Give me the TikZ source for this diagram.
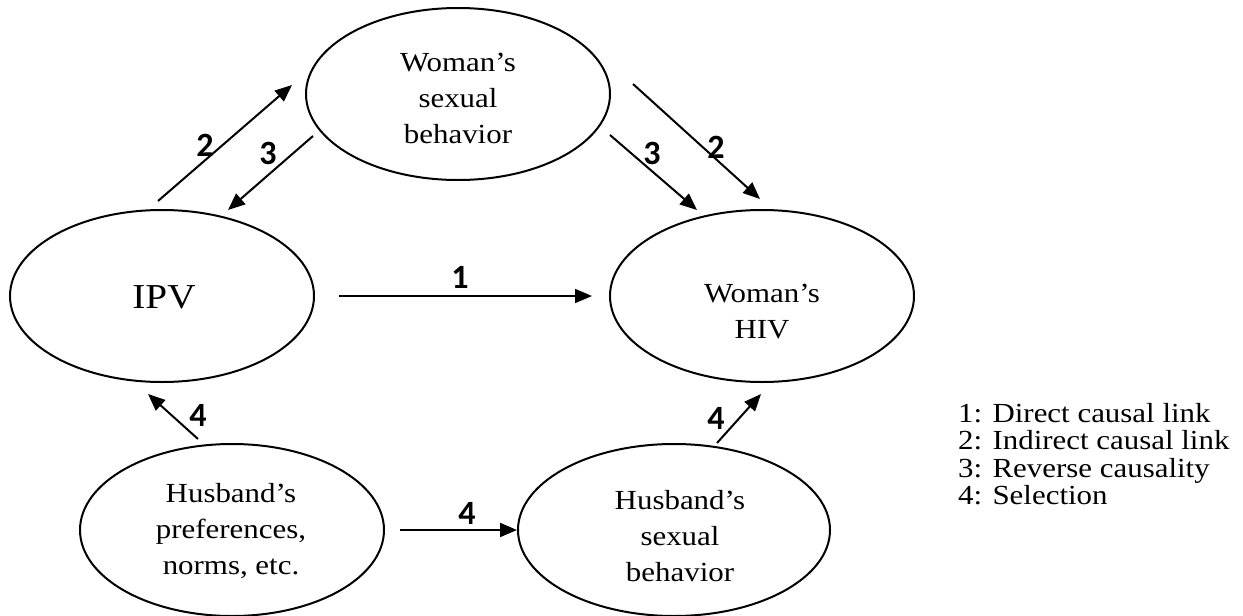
\documentclass[tikz,border=0pt]{standalone}
\usepackage{fontspec}
\setmainfont{Liberation Serif}[FakeStretch=1.12]
\newfontfamily\labfont{Carlito}
\usetikzlibrary{arrows.meta,shapes.geometric}
\begin{document}
\begin{tikzpicture}[x=1pt,y=-1pt,
  oval/.style={draw,line width=2pt,ellipse,inner sep=0pt,minimum width=304pt,minimum height=172pt},
  nodetext/.style={font=\fontsize{27.6}{36}\selectfont,align=center,inner sep=0pt},
  conn/.style={line width=2pt,-{Triangle[length=17pt,width=14pt]}},
  num/.style={font=\labfont\bfseries\fontsize{34}{34}\selectfont,inner sep=0pt},
  legend/.style={font=\fontsize{27.6}{30}\selectfont,anchor=base west,inner sep=0pt}]
\useasboundingbox (0,0) rectangle (1243,616);

% ellipses
\node[oval] (WS)  at (458,94)  {};
\node[oval] (IPV) at (162,296) {};
\node[oval] (HIV) at (762,296) {};
\node[oval] (HP)  at (232,530) {};
\node[oval,minimum width=312pt] (HS) at (674,530) {};

% texts
\node[nodetext] (WSt)  at (458,98)  {Woman’s\\sexual\\behavior};
\node[nodetext,font=\fontsize{35}{40}\selectfont] (IPVt) at (164,297) {IPV};
\node[nodetext] (HIVt) at (762,312) {Woman’s\\HIV};
\node[nodetext] (HPt)  at (231,531) {Husband’s\\preferences,\\norms, etc.};
\node[nodetext] (HSt)  at (680,536) {Husband’s\\sexual\\behavior};

% arrow end points
\coordinate (a2Ls) at (158,201); \coordinate (a2Le) at (292,85);
\coordinate (a3Ls) at (313,136); \coordinate (a3Le) at (228,210);
\coordinate (a3Rs) at (610,135); \coordinate (a3Re) at (697,210);
\coordinate (a2Rs) at (633,84);  \coordinate (a2Re) at (760,199);
\coordinate (a4Ls) at (198,439); \coordinate (a4Le) at (148,394);
\coordinate (a4Rs) at (717,443); \coordinate (a4Re) at (761,394);

% connectors
\draw[conn] (a2Ls) -- (a2Le);
\draw[conn] (a3Ls) -- (a3Le);
\draw[conn] (a3Rs) -- (a3Re);
\draw[conn] (a2Rs) -- (a2Re);
\draw[conn] (a4Ls) -- (a4Le);
\draw[conn] (a4Rs) -- (a4Re);
\draw[conn,shorten <=24pt,shorten >=17pt] (IPV.east) -- (HIV.west);
\draw[conn,shorten <=15pt,shorten >=0pt] (HP.east) -- (HS.west);

% labels
\node[num] (n2L) at (205,145) {2};
\node[num] (n3L) at (268,153) {3};
\node[num] (n3R) at (652,153) {3};
\node[num] (n2R) at (716,147) {2};
\node[num] (n1)  at (460,277) {1};
\node[num] (n4L) at (198,415) {4};
\node[num] (n4R) at (716,418) {4};
\node[num] (n4B) at (467,513) {4};

% legend
\node[legend] (l1) at (958,422) {1: Direct causal link};
\node[legend] (l2) at (958,449.5) {2: Indirect causal link};
\node[legend] (l3) at (958,477) {3: Reverse causality};
\node[legend] (l4) at (958,504.5) {4: Selection};
\end{tikzpicture}
\end{document}
